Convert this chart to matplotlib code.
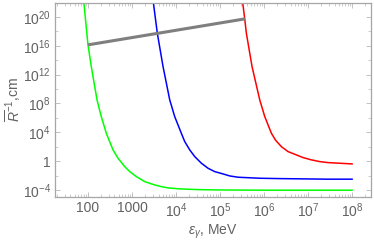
#!/usr/bin/env python

"""Inverse mean free path vs photon energy, three curves plus a gray line.
"""

import matplotlib
matplotlib.use('Agg')
import matplotlib.pyplot as plt
import matplotlib.ticker as ticker
import numpy as np

# Values, as log10 of energy (MeV) and log10 of R^-1 (cm)
green_log_eps = [1.90, 2.00, 2.075, 2.205, 2.302, 2.416, 2.568, 2.682, 2.834,
                 2.948, 3.098, 3.289, 3.516, 3.666, 3.818, 4.09, 4.5, 5.0,
                 6.0, 7.0, 8.0]
green_log_r = [22.39, 16.14, 13.13, 8.5, 6.18, 3.875, 1.56, 0.40, -0.76,
               -1.46, -2.15, -2.85, -3.31, -3.54, -3.72, -3.86, -3.96, -4.01,
               -4.04, -4.04, -4.04]

blue_log_eps = [3.477, 3.575, 3.705, 3.857, 3.97, 4.12, 4.198, 4.311, 4.425,
                4.575, 4.727, 4.88, 5.068, 5.22, 5.41, 5.9, 6.36, 7.45, 8.0]
blue_log_r = [22.39, 17.76, 13.13, 8.5, 6.18, 3.875, 2.71, 1.56, 0.63,
              -0.29, -0.99, -1.46, -1.78, -2.06, -2.24, -2.38, -2.43, -2.51,
              -2.51]

red_log_eps = [5.507, 5.561, 5.598, 5.727, 5.902, 6.016, 6.166, 6.257, 6.393,
               6.545, 6.734, 6.886, 7.075, 7.266, 7.455, 8.0]
red_log_r = [22.39, 19.75, 17.76, 13.13, 8.5, 6.18, 3.875, 2.94, 2.01,
             1.32, 0.86, 0.49, 0.17, -0.07, -0.21, -0.39]

gray_log_eps = [2.0, 5.568]
gray_log_r = [16.14, 19.75]

x_ticks = [2, 3, 4, 5, 6, 7, 8]
x_labels = ['100', '1000', '$10^4$', '$10^5$', '$10^6$', '$10^7$', '$10^8$']
y_ticks = [-4, 0, 4, 8, 12, 16, 20]
y_labels = ['$10^{-4}$', '1', '$10^4$', '$10^8$', '$10^{12}$', '$10^{16}$',
            '$10^{20}$']


def plot_curves(output_filename):
    """Draw the log-log frame plot and save it."""
    plt.rcParams['font.family'] = ['Liberation Sans', 'DejaVu Sans']
    plt.rcParams['mathtext.fontset'] = 'custom'
    plt.rcParams['mathtext.rm'] = 'Liberation Sans'
    plt.rcParams['mathtext.it'] = 'Liberation Sans:italic'
    plt.rcParams['mathtext.bf'] = 'Liberation Sans:bold'

    fig = plt.figure(figsize=(3.74, 2.41), dpi=100)
    ax = fig.add_axes([0.147, 0.183, 0.845, 0.806])

    def pts(lx, ly):
        return 10 ** np.array(lx), 10 ** np.array(ly)

    ax.plot(*pts(green_log_eps, green_log_r), color='#00ff00', lw=1.1)
    ax.plot(*pts(blue_log_eps, blue_log_r), color='#0000ff', lw=1.1)
    ax.plot(*pts(red_log_eps, red_log_r), color='#ff0000', lw=1.1)
    ax.plot(*pts(gray_log_eps, gray_log_r), color='#7f7f7f', lw=2.2,
            solid_capstyle='butt')

    ax.set_xscale('log')
    ax.set_yscale('log')
    ax.set_xlim(10 ** 1.25, 10 ** 8.43)
    ax.set_ylim(10 ** -4.97, 10 ** 22.0)

    ax.xaxis.set_major_locator(ticker.FixedLocator([10.0 ** t for t in x_ticks]))
    ax.xaxis.set_major_formatter(ticker.FixedFormatter(x_labels))
    ax.xaxis.set_minor_locator(ticker.LogLocator(base=10, subs=np.arange(2, 10)))
    ax.xaxis.set_minor_formatter(ticker.NullFormatter())
    ax.yaxis.set_major_locator(ticker.FixedLocator([10.0 ** t for t in y_ticks]))
    ax.yaxis.set_major_formatter(ticker.FixedFormatter(y_labels))
    ax.yaxis.set_minor_locator(ticker.FixedLocator(
        [10.0 ** t for t in range(-4, 23, 2)]))
    ax.yaxis.set_minor_formatter(ticker.NullFormatter())

    frame_color = '#a6a6a6'
    for spine in ax.spines.values():
        spine.set_color(frame_color)
        spine.set_linewidth(0.9)
    ax.tick_params(which='both', direction='in', top=True, right=True,
                   color='#b8b8b8', labelcolor='#626262', labelsize=10)
    ax.tick_params(which='major', length=3.5, width=0.6, pad=3)
    ax.tick_params(which='minor', length=2, width=0.5)

    ax.set_xlabel(r'$\epsilon_\gamma$, MeV', color='#626262', fontsize=10,
                  labelpad=2)
    ax.set_ylabel(r'$\overline{R}^{-1}$,cm', color='#626262', fontsize=10,
                  labelpad=0)

    fig.savefig(output_filename, dpi=100)


def main():
    plot_curves('out.png')


if __name__ == '__main__':
    main()
